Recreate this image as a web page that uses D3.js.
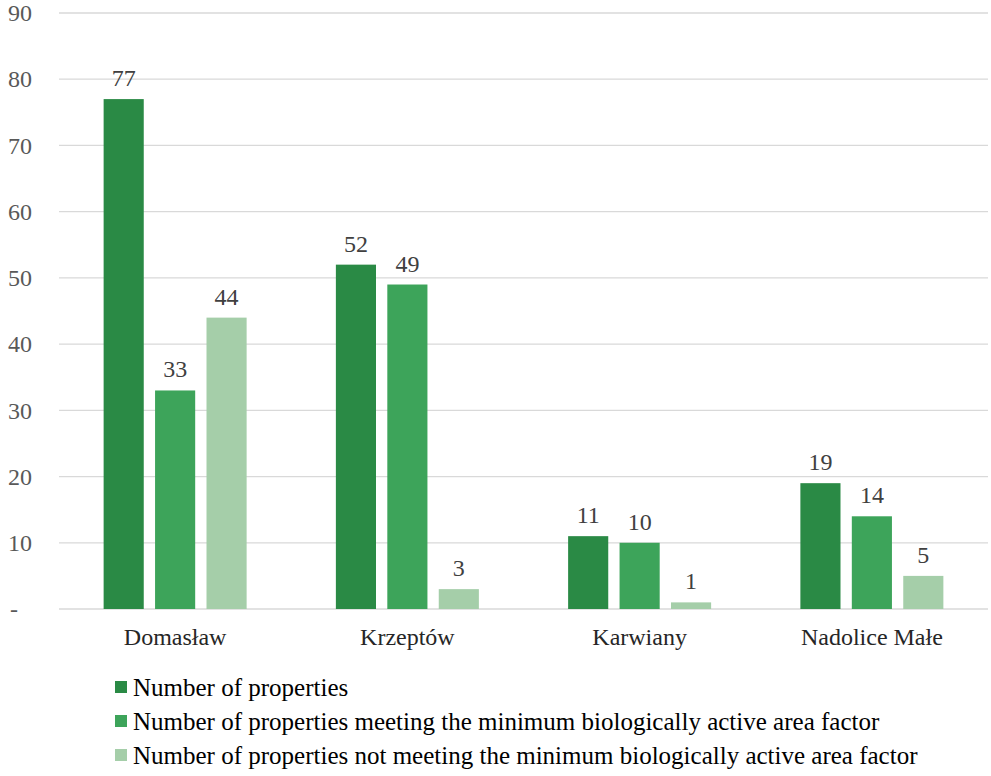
<!DOCTYPE html>
<html>
<head>
<meta charset="utf-8">
<script src="https://cdnjs.cloudflare.com/ajax/libs/d3/7.8.5/d3.min.js"></script>
<style>
  body { margin: 0; background: #fff; }
  text { font-family: "Liberation Serif", "Times New Roman", serif; }
</style>
</head>
<body>
<svg id="chart"></svg>
<script>
var categories = ["Domasław", "Krzeptów", "Karwiany", "Nadolice Małe"];
var seriesNames = [
  "Number of properties",
  "Number of properties meeting the minimum biologically active area factor",
  "Number of properties not meeting the minimum biologically active area factor"
];
var totalProps = [77, 52, 11, 19];
var meetingProps = [33, 49, 10, 14];
var notMeetingProps = [44, 3, 1, 5];
var yTicks = [0, 10, 20, 30, 40, 50, 60, 70, 80, 90];
var colors = ["#2a8a45", "#3da45a", "#a5cea9"];

var width = 991, height = 776;
var plotLeft = 59, plotRight = 988, plotTop = 13, plotBottom = 609;
var serif = "'Liberation Serif', 'Times New Roman', serif";

var svg = d3.select("#chart").attr("width", width).attr("height", height);

var seriesValues = [totalProps, meetingProps, notMeetingProps];

var x = d3.scaleBand().domain(categories).range([plotLeft, plotRight]);
var xInner = d3.scaleBand().domain(d3.range(3)).range([0, 143]).paddingInner(0.22);
var y = d3.scaleLinear().domain([0, 90]).range([plotBottom, plotTop]);

// gridlines
svg.append("g")
  .selectAll("line")
  .data(yTicks)
  .enter().append("line")
  .attr("x1", plotLeft).attr("x2", plotRight)
  .attr("y1", function(d) { return y(d); })
  .attr("y2", function(d) { return y(d); })
  .attr("stroke", "#d9d9d9")
  .attr("stroke-width", 1.3);

// y axis labels
var yAxis = d3.axisLeft(y).tickValues(yTicks).tickSize(0).tickPadding(0)
  .tickFormat(function(d) { return d === 0 ? "-" : d; });
var yg = svg.append("g").attr("transform", "translate(32,0)").call(yAxis)
  .attr("font-family", serif);
yg.select(".domain").remove();
yg.selectAll("text")
  .attr("fill", "#595959")
  .style("font-size", "24px")
  .attr("dx", function(d) { return d === 0 ? -14 : 0; });

// bars
var groups = svg.append("g").selectAll("g")
  .data(categories)
  .enter().append("g")
  .attr("transform", function(d) { return "translate(" + (x(d) + x.bandwidth() / 2 - 71.5) + ",0)"; });

groups.selectAll("rect")
  .data(function(d, i) { return seriesValues.map(function(s, k) { return { k: k, v: s[i] }; }); })
  .enter().append("rect")
  .attr("x", function(d) { return xInner(d.k); })
  .attr("width", xInner.bandwidth())
  .attr("y", function(d) { return y(d.v); })
  .attr("height", function(d) { return y(0) - y(d.v); })
  .attr("fill", function(d) { return colors[d.k]; });

groups.selectAll("text.val")
  .data(function(d, i) { return seriesValues.map(function(s, k) { return { k: k, v: s[i] }; }); })
  .enter().append("text")
  .attr("class", "val")
  .attr("x", function(d) { return xInner(d.k) + xInner.bandwidth() / 2; })
  .attr("y", function(d) { return y(d.v) - 13; })
  .attr("text-anchor", "middle")
  .attr("fill", "#404040")
  .style("font-size", "24px")
  .text(function(d) { return d.v; });

// x axis labels
var xAxis = d3.axisBottom(x).tickSize(0).tickPadding(0);
var xg = svg.append("g").attr("transform", "translate(0," + (plotBottom + 19) + ")").call(xAxis)
  .attr("font-family", serif);
xg.select(".domain").remove();
xg.selectAll("text")
  .attr("fill", "#262626")
  .style("font-size", "24px");

// legend
var legend = svg.append("g").selectAll("g")
  .data(seriesNames)
  .enter().append("g")
  .attr("transform", function(d, i) { return "translate(115," + (687 + i * 34) + ")"; });

legend.append("rect")
  .attr("x", 0).attr("y", -6)
  .attr("width", 12).attr("height", 12)
  .attr("fill", function(d, i) { return colors[i]; });

legend.append("text")
  .attr("x", 18)
  .attr("dy", "0.35em")
  .attr("fill", "#000")
  .style("font-size", "25px")
  .text(function(d) { return d; });
</script>
</body>
</html>
